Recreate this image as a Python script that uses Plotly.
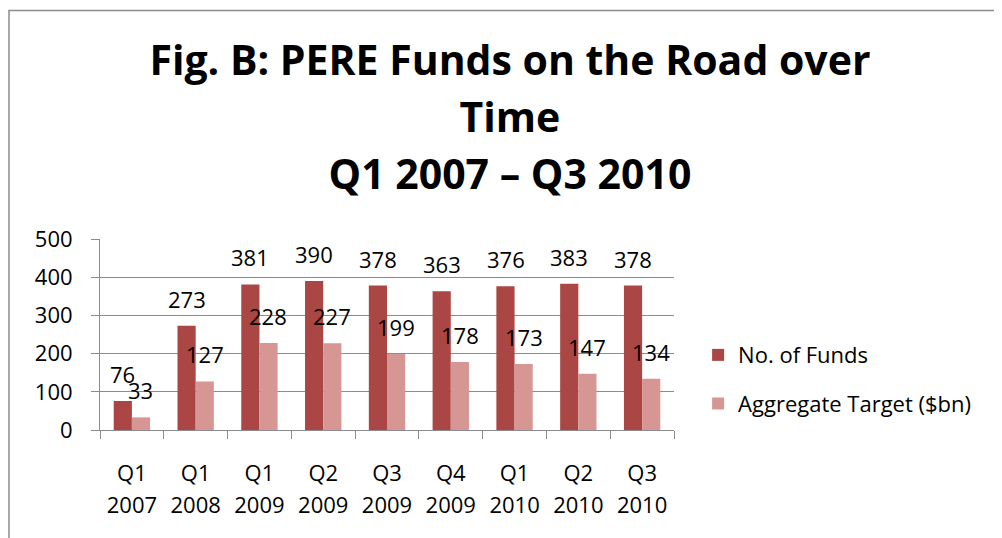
import plotly.graph_objects as go

# chart data
quarters = [("Q1", "2007"), ("Q1", "2008"), ("Q1", "2009"), ("Q2", "2009"), ("Q3", "2009"),
            ("Q4", "2009"), ("Q1", "2010"), ("Q2", "2010"), ("Q3", "2010")]
num_funds = [76, 273, 381, 390, 378, 363, 376, 383, 378]
aggregate_target = [33, 127, 228, 227, 199, 178, 173, 147, 134]
series_names = ["No. of Funds", "Aggregate Target ($bn)"]
y_ticks = [0, 100, 200, 300, 400, 500]

FONT = "Open Sans, Lato, sans-serif"
DARK = "#AA4643"
LIGHT = "#D59694"
GRID = "#8C8C8C"

# two-line category labels; the span keeps glyphs at 22px while the
# outer font size sets the wider line spacing seen in the original
lbl = "<span style='font-size:22px'>{}</span>"
categories = [lbl.format(q) + "<br>" + lbl.format(y) for q, y in quarters]

fig = go.Figure()

for i, (name, vals, color) in enumerate(zip(series_names, [num_funds, aggregate_target], [DARK, LIGHT])):
    fig.add_trace(go.Bar(x=categories, y=vals, name=name, marker_color=color,
                         marker_line_width=0, legendgroup=f"g{i}"))
    # value labels sit well above the bar like in the Excel original
    shift = -9 if i == 0 else 9
    for c, v in zip(categories, vals):
        fig.add_annotation(x=c, y=v, text=str(v), showarrow=False,
                           xshift=shift, yshift=27, yanchor="middle",
                           font=dict(family=FONT, size=22, color="black"))

title_lines = ["Fig. B: PERE Funds on the Road over", "Time", "Q1 2007 \u2013 Q3 2010"]
title_text = "<br>".join(f"<span style='font-size:41px'>{t}</span>" for t in title_lines)

# page body has an 8px margin, so the figure is a bit smaller than the window
fig.update_layout(
    width=994, height=530,
    margin=dict(l=92, r=328, t=231, b=108),
    paper_bgcolor="white", plot_bgcolor="white",
    barmode="group", bargap=0.43, bargroupgap=0,
    font=dict(family=FONT, size=22, color="black"),
    title=dict(text=title_text, x=0.505, xref="container", xanchor="center",
               y=0.874, yref="container", yanchor="top", automargin=False,
               font=dict(family=FONT, size=44, color="black", weight="bold")),
    legend=dict(x=1.042, xanchor="left", y=0.264, yanchor="middle",
                font=dict(family=FONT, size=22), tracegroupgap=17,
                bgcolor="rgba(0,0,0,0)"),
    showlegend=True,
)

fig.update_xaxes(type="category", tickson="boundaries", ticks="outside", ticklen=8,
                 tickcolor=GRID, showline=True, linecolor=GRID, linewidth=1,
                 showgrid=False, ticklabelstandoff=21, automargin=False,
                 tickfont=dict(family=FONT, size=24.5))
fig.update_yaxes(range=[0, 500], tickvals=y_ticks, ticks="outside", ticklen=8,
                 tickcolor=GRID, showline=True, linecolor=GRID, linewidth=1,
                 showgrid=True, gridcolor=GRID, gridwidth=1, zeroline=False,
                 ticklabelstandoff=14, automargin=False,
                 tickfont=dict(family=FONT, size=22))

# outer frame of the chart area (cropped on the right/bottom like the original)
fig.add_shape(type="rect", xref="paper", yref="paper",
              x0=(1 - 92) / 574, x1=(1020 - 92) / 574,
              y0=(422 - 560) / 191, y1=(422 - 2.5) / 191,
              line=dict(color="#8C8C8C", width=1.5), layer="below")

fig.write_html("out.html")
